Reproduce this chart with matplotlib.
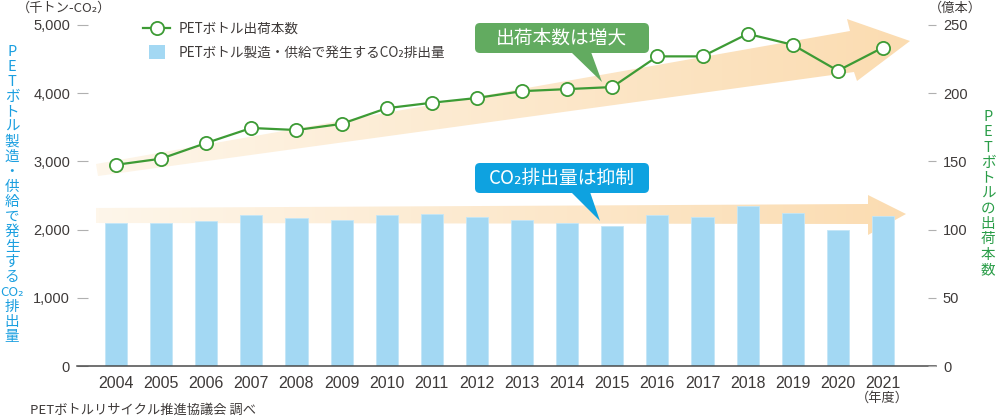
import numpy as np
import matplotlib.pyplot as plt
from matplotlib.patches import Polygon, FancyBboxPatch, Rectangle
from matplotlib.lines import Line2D
from matplotlib.legend_handler import HandlerPatch
from matplotlib.colors import LinearSegmentedColormap

plt.rcParams['font.family'] = ['Noto Sans CJK JP', 'DejaVu Sans']

# データ
years = ['2004', '2005', '2006', '2007', '2008', '2009', '2010', '2011', '2012',
         '2013', '2014', '2015', '2016', '2017', '2018', '2019', '2020', '2021']
co2 = [2100, 2100, 2130, 2220, 2170, 2140, 2220, 2230, 2190,
       2140, 2100, 2050, 2220, 2180, 2350, 2240, 2000, 2200]       # 千トン-CO2
bottles = [147.5, 152, 163.5, 174.5, 173, 177.5, 189, 193, 196.5,
           201.5, 203, 204.5, 227, 227, 243.5, 235.5, 216.5, 233.5]  # 億本
left_ticks = [0, 1000, 2000, 3000, 4000, 5000]
right_ticks = [0, 50, 100, 150, 200, 250]

BLUE = '#1a9fe0'
GREEN = '#2a9d48'
LINE_GREEN = '#3d9b35'
BAR = '#a3d8f3'
GRAY = '#3e3a39'
NUM_FONT = ['Liberation Sans', 'DejaVu Sans']

fig = plt.figure(figsize=(9.96, 4.2), dpi=100)

# 装飾用（ピクセル座標）
bg = fig.add_axes([0, 0, 1, 1], zorder=0)
bg.axis('off')

# 背景の矢印（グラデーション）
cmap = LinearSegmentedColormap.from_list('arr', ['#fef6ea', '#fbdcb1'])
grad = np.linspace(0, 1, 256).reshape(1, -1)
up_arrow = [(96, 164), (850, 31), (847, 19), (910, 41), (857, 81), (854, 72), (98, 176)]
low_arrow = [(96, 208), (868, 204), (868, 195), (906, 214), (868, 235), (868, 224), (96, 223)]
for pts in [up_arrow, low_arrow]:
    poly = Polygon(pts, closed=True, facecolor='none', edgecolor='none')
    bg.add_patch(poly)
    im = bg.imshow(grad, cmap=cmap, extent=[96, 910, 250, 0], aspect='auto', zorder=1)
    im.set_clip_path(poly)

# 吹き出し
def callout(x0, y0, w, h, tail, color, text):
    box = FancyBboxPatch((x0, y0), w, h, boxstyle='round,pad=0,rounding_size=5',
                         facecolor=color, edgecolor='none', zorder=3)
    bg.add_patch(box)
    bg.add_patch(Polygon(tail, closed=True, facecolor=color, edgecolor='none', zorder=3))
    bg.text(x0 + w / 2, y0 + h / 2, text, color='white', fontsize=13.5,
            ha='center', va='center', zorder=4)

callout(475, 23, 174, 30, [(571, 52), (591, 52), (602, 82)], '#62ab60', '出荷本数は増大')
callout(475, 163, 174, 30, [(571, 192), (590, 192), (600, 221)], '#0ea2e0', 'CO₂排出量は抑制')

# 縦書きラベル
left_label = ['P', 'E', 'T', 'ボ', 'ト', 'ル', '製', '造', '・', '供', '給', 'で',
              '発', '生', 'す', 'る', 'CO₂', '排', '出', '量']
for i, ch in enumerate(left_label):
    size = 9.5 if ch == 'CO₂' else 10.5
    bg.text(12, 52 + i * 15, ch, color=BLUE, fontsize=size, ha='center', va='center')
right_label = ['P', 'E', 'T', 'ボ', 'ト', 'ル', 'の', '出', '荷', '本', '数']
for i, ch in enumerate(right_label):
    bg.text(988, 117 + i * 15.3, ch, color=GREEN, fontsize=10.5, ha='center', va='center')

bg.text(64, 8, '（千トン-CO₂）', color=GRAY, fontsize=9.5, ha='center', va='center')
bg.text(955, 8, '（億本）', color=GRAY, fontsize=9.5, ha='center', va='center')
bg.text(30, 410, 'PETボトルリサイクル推進協議会 調べ', color=GRAY, fontsize=9.5,
        ha='left', va='center')
bg.text(882, 398, '（年度）', color=GRAY, fontsize=9.5, ha='center', va='center')

bg.set_xlim(0, 996)
bg.set_ylim(420, 0)

# メインのグラフ
ax = fig.add_axes([77 / 996, 54 / 420, 859 / 996, 341 / 420], zorder=1)
ax.patch.set_visible(False)
x = np.arange(len(years))
ax.bar(x, co2, width=0.49, color=BAR, edgecolor='#c4e6f7', linewidth=0.6, zorder=2)
ax.set_xlim(-0.864, 18.175)
ax.set_ylim(0, 5000)
ax.set_yticks(left_ticks, [f'{v:,}' for v in left_ticks])
ax.set_xticks(x, years)
for s in ['top', 'left', 'right']:
    ax.spines[s].set_visible(False)
ax.spines['bottom'].set_color('#4a4a4a')
ax.spines['bottom'].set_linewidth(1.1)
ax.tick_params(axis='y', direction='in', length=8, width=0.8, color='#b0b0b0',
               pad=5, labelsize=10.5, labelcolor=GRAY)
ax.tick_params(axis='x', length=0, pad=7, labelsize=11.5, labelcolor=GRAY)
for lab in ax.get_xticklabels() + ax.get_yticklabels():
    lab.set_family(NUM_FONT)

ax2 = ax.twinx()
ax2.set_zorder(2)
ax2.patch.set_visible(False)
line, = ax2.plot(x, bottles, color=LINE_GREEN, lw=1.6, marker='o', markersize=9.5,
                 markerfacecolor='white', markeredgecolor=LINE_GREEN, markeredgewidth=1.3)
ax2.set_ylim(0, 250)
ax2.set_yticks(right_ticks)
for s in ['top', 'left', 'right', 'bottom']:
    ax2.spines[s].set_visible(False)
ax2.tick_params(axis='y', direction='in', length=6, width=0.8, color='#b0b0b0',
                pad=5, labelsize=10.5, labelcolor=GRAY)
for lab in ax2.get_yticklabels():
    lab.set_family(NUM_FONT)

# 凡例
def square(legend, orig_handle, xdescent, ydescent, width, height, fontsize):
    w, h = 11.5, 10
    return Rectangle((-xdescent + (width - w) / 2, -ydescent + (height - h) / 2), w, h)

bar_proxy = Rectangle((0, 0), 1, 1, facecolor=BAR, edgecolor='none')
ax2.legend([line, bar_proxy],
           ['PETボトル出荷本数', 'PETボトル製造・供給で発生するCO₂排出量'],
           loc='upper left', bbox_to_anchor=(143 / 996, 1 - 22 / 420),
           bbox_transform=fig.transFigure, frameon=False, fontsize=9.8,
           handlelength=2.0, handletextpad=0.6, borderpad=0, borderaxespad=0,
           labelspacing=0.7, labelcolor=GRAY,
           handler_map={Rectangle: HandlerPatch(patch_func=square)})

fig.savefig('out.png', dpi=100)
